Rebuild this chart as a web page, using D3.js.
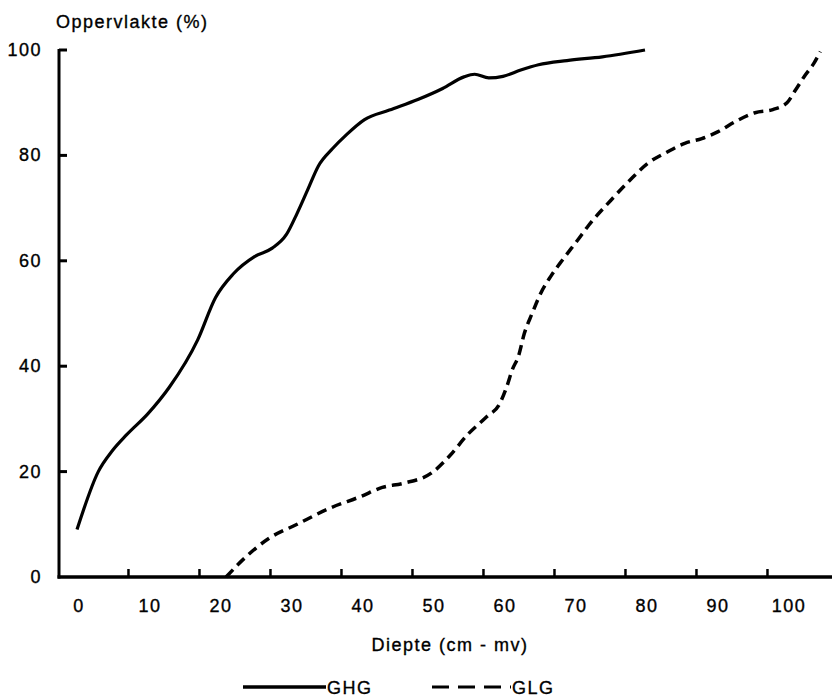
<!DOCTYPE html>
<html>
<head>
<meta charset="utf-8">
<script src="https://cdn.jsdelivr.net/npm/d3@7"></script>
<style>
  body { margin: 0; background: #fff; }
  svg text { font-family: "Liberation Sans", Arial, Helvetica, sans-serif; font-size: 18px; letter-spacing: 1.5px; fill: #000; stroke: #000; stroke-width: 0.35px; }
</style>
</head>
<body>
<div id="chart"></div>
<script>
// depth (cm - mv) vs cumulative surface (%)
var ghgDepth = [0, 3, 5, 7, 10, 13, 17, 19.5, 22, 25, 27.5, 29.5, 31, 32.5, 34, 36, 38, 40.5, 44, 48, 51.5, 54.5, 56, 58, 60, 62.5, 65, 69, 74, 80];
var ghgArea = [9, 20, 24, 27, 31, 36, 45, 53, 57.5, 60.8, 62.4, 65, 69, 73.5, 78, 81.3, 84, 86.8, 88.6, 90.6, 92.7, 94.9, 95.4, 94.7, 95, 96.2, 97.2, 98, 98.7, 100];

var glgDepth = [21, 23.3, 27, 31, 35.5, 40, 43, 46, 50, 52.5, 55, 57.7, 59.5, 60.5, 61.3, 62.2, 63, 64.1, 65.3, 66.7, 68.4, 70.5, 72.1, 75.2, 77.8, 80.4, 83.2, 85.6, 88, 90.3, 92.7, 95.5, 98, 100, 101.2, 102.6, 103.8, 104.7];
var glgArea = [0, 3.2, 7.3, 10, 13, 15.3, 17, 17.8, 19.8, 23, 27, 30.4, 32.8, 36, 39.3, 42, 46.2, 50, 53.8, 57, 60.2, 63.9, 66.8, 71.5, 75.2, 78.5, 80.7, 82.3, 83.2, 84.5, 86.4, 88.1, 88.7, 90, 92.4, 95.3, 97.5, 99.7];

var xTicks = [0, 10, 20, 30, 40, 50, 60, 70, 80, 90, 100];
var yTicks = [0, 20, 40, 60, 80, 100];
var seriesNames = ["GHG", "GLG"];

var width = 832, height = 698;
var axisLeft = 59, axisBottom = 577;

var x = d3.scaleLinear().domain([0, 100]).range([77, 787]);
var y = d3.scaleLinear().domain([0, 100]).range([577, 50]);

var svg = d3.select('#chart').append('svg')
    .attr('width', width)
    .attr('height', height);

// axis lines
svg.append('line')
    .attr('x1', axisLeft).attr('y1', y(100) - 1)
    .attr('x2', axisLeft).attr('y2', axisBottom + 1.5)
    .attr('stroke', '#000').attr('stroke-width', 3);
svg.append('line')
    .attr('x1', axisLeft - 1.5).attr('y1', axisBottom)
    .attr('x2', width).attr('y2', axisBottom)
    .attr('stroke', '#000').attr('stroke-width', 3.5);

// y ticks point inward
svg.selectAll('.ytick').data(yTicks.filter(function (d) { return d > 0; }))
    .enter().append('line')
    .attr('x1', axisLeft).attr('x2', axisLeft + 8)
    .attr('y1', function (d) { return y(d); })
    .attr('y2', function (d) { return y(d); })
    .attr('stroke', '#000').attr('stroke-width', 3);

svg.selectAll('.ylab').data(yTicks)
    .enter().append('text')
    .attr('x', 42)
    .attr('y', function (d) { return y(d) + 6; })
    .attr('text-anchor', 'end')
    .text(function (d) { return d; });

// x ticks sit a bit left of their labels in the original
var tickShift = -2.75;
svg.selectAll('.xtick').data(xTicks.filter(function (d) { return d > 0; }))
    .enter().append('line')
    .attr('x1', function (d) { return x(d + tickShift); })
    .attr('x2', function (d) { return x(d + tickShift); })
    .attr('y1', axisBottom).attr('y2', axisBottom - 8)
    .attr('stroke', '#000').attr('stroke-width', 2.5);

svg.selectAll('.xlab').data(xTicks)
    .enter().append('text')
    .attr('x', function (d) { return x(d) + 2; })
    .attr('y', 612)
    .attr('text-anchor', 'middle')
    .text(function (d) { return d; });

// titles
svg.append('text').attr('x', 56).attr('y', 28).text('Oppervlakte (%)');
svg.append('text').attr('x', 450).attr('y', 651).attr('text-anchor', 'middle').text('Diepte (cm - mv)');

// lines
var line = d3.line()
    .x(function (d) { return x(d[0]); })
    .y(function (d) { return y(d[1]); })
    .curve(d3.curveMonotoneX);

svg.append('path')
    .datum(d3.zip(ghgDepth, ghgArea))
    .attr('d', line)
    .attr('fill', 'none')
    .attr('stroke', '#000')
    .attr('stroke-width', 3.2);

svg.append('path')
    .datum(d3.zip(glgDepth, glgArea))
    .attr('d', line)
    .attr('fill', 'none')
    .attr('stroke', '#000')
    .attr('stroke-width', 3.5)
    .attr('stroke-dasharray', '10,6');

// legend
svg.append('line')
    .attr('x1', 243).attr('x2', 326).attr('y1', 687).attr('y2', 687)
    .attr('stroke', '#000').attr('stroke-width', 3.5);
svg.append('text').attr('x', 327).attr('y', 694).text(seriesNames[0]);
svg.append('line')
    .attr('x1', 432).attr('x2', 511).attr('y1', 687).attr('y2', 687)
    .attr('stroke', '#000').attr('stroke-width', 3)
    .attr('stroke-dasharray', '17,9');
svg.append('text').attr('x', 512).attr('y', 694).text(seriesNames[1]);
</script>
</body>
</html>
